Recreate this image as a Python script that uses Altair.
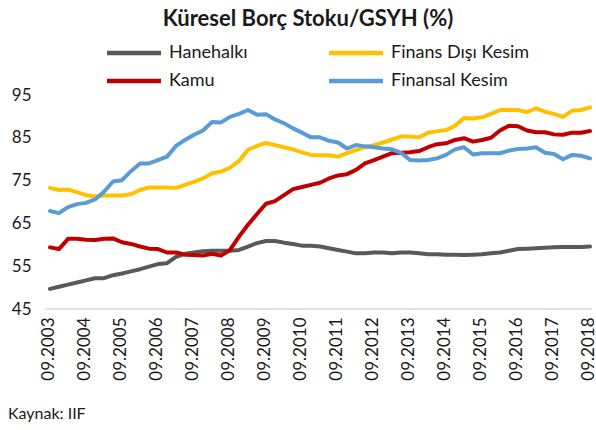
import altair as alt
import pandas as pd

title_text = "Küresel Borç Stoku/GSYH (%)"
source_text = "Kaynak: IIF"

series_names = ["Hanehalkı", "Finans Dışı Kesim", "Kamu", "Finansal Kesim"]
series_colors = ["#595959", "#FFC000", "#C00000", "#5B9BD5"]

# quarterly periods 09.2003 ... 09.2018
months = ["09", "12", "03", "06"]
periods = []
for k in range(61):
    m = months[k % 4]
    y = 2003 + (k + 1) // 4 if k % 4 != 0 else 2003 + k // 4
    periods.append(f"{m}.{y}")
tick_labels = [f"09.{y}" for y in range(2003, 2019)]

hanehalki = [49.7, 50.2, 50.7, 51.2, 51.7, 52.2, 52.2, 52.9, 53.3, 53.8, 54.3, 54.9, 55.5,
             55.7, 57.2, 57.9, 58.2, 58.5, 58.6, 58.6, 58.6, 58.8, 59.6, 60.4, 60.9, 60.9,
             60.5, 60.2, 59.8, 59.8, 59.6, 59.2, 58.8, 58.4, 58.0, 58.0, 58.2, 58.2, 58.0,
             58.2, 58.2, 58.0, 57.8, 57.8, 57.7, 57.7, 57.6, 57.7, 57.8, 58.0, 58.2, 58.6,
             59.0, 59.1, 59.2, 59.3, 59.4, 59.5, 59.5, 59.5, 59.6]
finans_disi = [73.3, 72.8, 72.9, 72.3, 71.6, 71.3, 71.5, 71.5, 71.5, 71.8, 72.8, 73.4, 73.4,
               73.4, 73.3, 74.0, 74.7, 75.5, 76.7, 77.1, 78.0, 79.6, 82.2, 83.1, 83.8, 83.3,
               82.8, 82.3, 81.6, 81.0, 80.9, 80.9, 80.6, 81.4, 82.1, 82.8, 83.3, 83.9, 84.6,
               85.3, 85.3, 85.1, 86.2, 86.5, 86.8, 87.8, 89.6, 89.5, 89.8, 90.6, 91.5, 91.5,
               91.5, 91.0, 91.9, 91.1, 90.6, 89.9, 91.3, 91.5, 92.1]
kamu = [59.4, 59.0, 61.4, 61.4, 61.2, 61.1, 61.4, 61.5, 60.6, 60.2, 59.6, 59.1, 59.0,
        58.2, 58.2, 57.7, 57.6, 57.5, 57.9, 57.5, 58.8, 61.9, 64.7, 67.2, 69.6, 70.2,
        71.6, 73.0, 73.5, 74.0, 74.5, 75.5, 76.2, 76.5, 77.5, 79.0, 79.8, 80.6, 81.4,
        81.5, 81.6, 81.9, 82.8, 83.5, 83.7, 84.5, 84.9, 84.1, 84.5, 85.0, 86.7, 87.8,
        87.7, 86.7, 86.3, 86.3, 85.8, 85.7, 86.2, 86.2, 86.6]
finansal = [67.9, 67.4, 68.8, 69.5, 69.8, 70.6, 72.4, 74.8, 75.1, 77.2, 79.0, 79.0, 79.8,
            80.6, 83.1, 84.5, 85.7, 86.7, 88.7, 88.6, 89.9, 90.6, 91.5, 90.4, 90.5, 89.3,
            88.4, 87.2, 86.2, 85.1, 85.1, 84.3, 83.9, 82.5, 83.3, 83.0, 82.8, 82.5, 82.3,
            81.5, 79.8, 79.7, 79.8, 80.2, 81.0, 82.3, 82.8, 81.1, 81.4, 81.4, 81.4, 82.0,
            82.4, 82.5, 82.8, 81.5, 81.2, 80.0, 81.0, 80.8, 80.2]

y_ticks = [45, 55, 65, 75, 85, 95]

rows = []
for name, vals in zip(series_names, [hanehalki, finans_disi, kamu, finansal]):
    for i, v in enumerate(vals):
        rows.append({"period": periods[i], "series": name, "value": v, "order": i})
df = pd.DataFrame(rows)

FONT = "Lato"
TXT = "#1a1a1a"
W, H = 540, 214

yscale = alt.Scale(domain=[45, 95], nice=False, zero=False)

base_rule = alt.Chart(pd.DataFrame({"v": [45]})).mark_rule(
    color="#d9d9d9", strokeWidth=1.5
).encode(
    y=alt.Y("v:Q", scale=yscale),
    x=alt.value(-5),
    x2=alt.value(W + 2),
)

lines = alt.Chart(df).mark_line(strokeWidth=4, strokeCap="round", strokeJoin="round").encode(
    x=alt.X("period:O", sort=periods, scale=alt.Scale(padding=0),
            axis=alt.Axis(values=tick_labels, labelAngle=270, ticks=False, domain=False,
                          labelPadding=8, labelOffset=-2, labelFont=FONT, labelFontSize=17,
                          labelColor=TXT, title=None, grid=False)),
    y=alt.Y("value:Q", scale=yscale,
            axis=alt.Axis(values=y_ticks, ticks=False, domain=False, grid=False,
                          labelPadding=19, labelFont=FONT, labelFontSize=17,
                          labelColor=TXT, title=None)),
    color=alt.Color("series:N",
                    scale=alt.Scale(domain=series_names, range=series_colors),
                    legend=alt.Legend(orient="none", legendX=75, legendY=-51,
                                      direction="horizontal", columns=2, title=None,
                                      symbolType="M-4.5,0H4.5", symbolSize=144,
                                      symbolStrokeWidth=4.5,
                                      labelFont=FONT, labelFontSize=18, labelColor=TXT,
                                      labelOffset=26, columnPadding=72, rowPadding=10,
                                      padding=0)),
    order=alt.Order("order:Q"),
)

title = alt.Chart(pd.DataFrame({"t": [title_text]})).mark_text(
    font=FONT, fontSize=22, fontWeight="bold", color=TXT, align="center", baseline="middle"
).encode(text="t:N", x=alt.value(258), y=alt.value(-76))

source = alt.Chart(pd.DataFrame({"t": [source_text]})).mark_text(
    font=FONT, fontSize=16, color=TXT, align="left", baseline="middle"
).encode(text="t:N", x=alt.value(-42), y=alt.value(319))

chart = alt.layer(base_rule, lines, title, source).properties(
    width=W, height=H,
    autosize=alt.AutoSizeParams(type="none"),
    padding={"left": 50, "top": 95, "right": 6, "bottom": 121},
).configure_view(stroke=None)

chart.save("out.html", embed_options={"renderer": "svg", "actions": False})
